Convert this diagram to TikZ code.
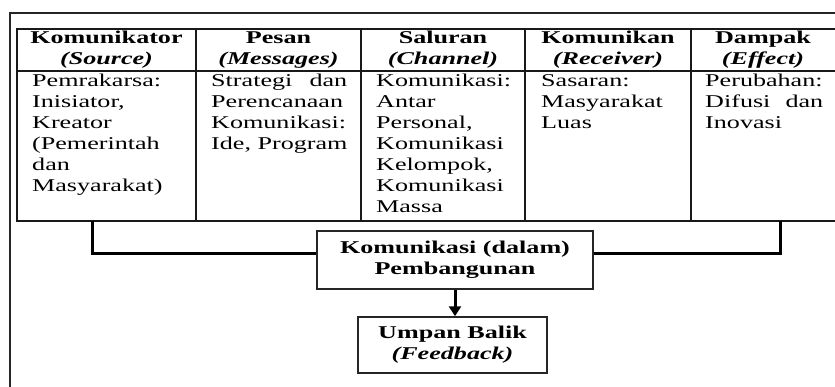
\documentclass[tikz,border=0pt]{standalone}
\usepackage{fontspec}
\setmainfont{Liberation Serif}[FakeStretch=1.45]
\usetikzlibrary{arrows.meta}
\newcommand{\ukuran}{\fontsize{18}{21}\selectfont}
\tikzset{
  garis/.style={draw=black!90, line width=1.3pt},
  bingkai/.style={draw=black!85, line width=2pt},
  kepala/.style={font=\ukuran\bfseries, align=center, inner sep=0pt},
  isi/.style={font=\ukuran, align=left, anchor=north west, inner sep=0pt},
  kotak/.style={draw=black!85, line width=1.5pt, font=\ukuran\bfseries, align=center},
  tebal/.style={draw=black, line width=3pt},
  panah/.style={draw=black, line width=3pt, -{Triangle[length=10pt,width=12pt]}},
}

\begin{document}
\begin{tikzpicture}[x=1pt, y=-1pt]
\useasboundingbox (0,0) rectangle (835,387);
\clip (0,0) rectangle (835,387);
% bingkai luar
\draw[bingkai] (10,13) rectangle (860,410);

% tabel
\draw[garis] (17,29) rectangle (837,221);
\draw[garis] (17,71) -- (837,71);
\foreach \x in {196,361,525,691} \draw[garis] (\x,29) -- (\x,221);

% kepala kolom
\node[kepala] (sumber) at (106.5,50) {Komunikator\\\textit{(Source)}};
\node[kepala] (pesan) at (278.5,50) {Pesan\\\textit{(Messages)}};
\node[kepala] (saluran) at (443,50) {Saluran\\\textit{(Channel)}};
\node[kepala] (penerima) at (608,50) {Komunikan\\\textit{(Receiver)}};
\node[kepala] (dampak) at (763,50) {Dampak\\\textit{(Effect)}};

% isi kolom
\node[isi] (isisumber) at (32,74) {Pemrakarsa:\\Inisiator,\\Kreator\\(Pemerintah\\dan\\Masyarakat)};
\node[isi] (isipesan) at (211,74) {\makebox[136pt][s]{Strategi dan}\\Perencanaan\\Komunikasi:\\Ide, Program};
\node[isi] (isisaluran) at (376,74) {Komunikasi:\\Antar\\Personal,\\Komunikasi\\Kelompok,\\Komunikasi\\Massa};
\node[isi] (isipenerima) at (541,74) {Sasaran:\\Masyarakat\\Luas};
\node[isi] (isidampak) at (705,74) {Perubahan:\\\makebox[118pt][s]{Difusi dan}\\Inovasi};

% pembangunan dan umpan balik
\node[kotak, minimum width=276pt, minimum height=58pt] (pusat) at (455,260) {Komunikasi (dalam)\\Pembangunan};
\node[kotak, minimum width=189pt, minimum height=56pt] (balik) at (452.5,345) {Umpan Balik\\\textit{(Feedback)}};

\coordinate (kiri) at (92,221);
\coordinate (kanan) at (780,221);
\draw[tebal] (kiri) |- ([yshift=6pt]pusat.west);
\draw[tebal] (kanan) |- ([yshift=6pt]pusat.east);
\draw[panah] (pusat.south) -- (pusat.south |- balik.north);
\end{tikzpicture}
\end{document}
